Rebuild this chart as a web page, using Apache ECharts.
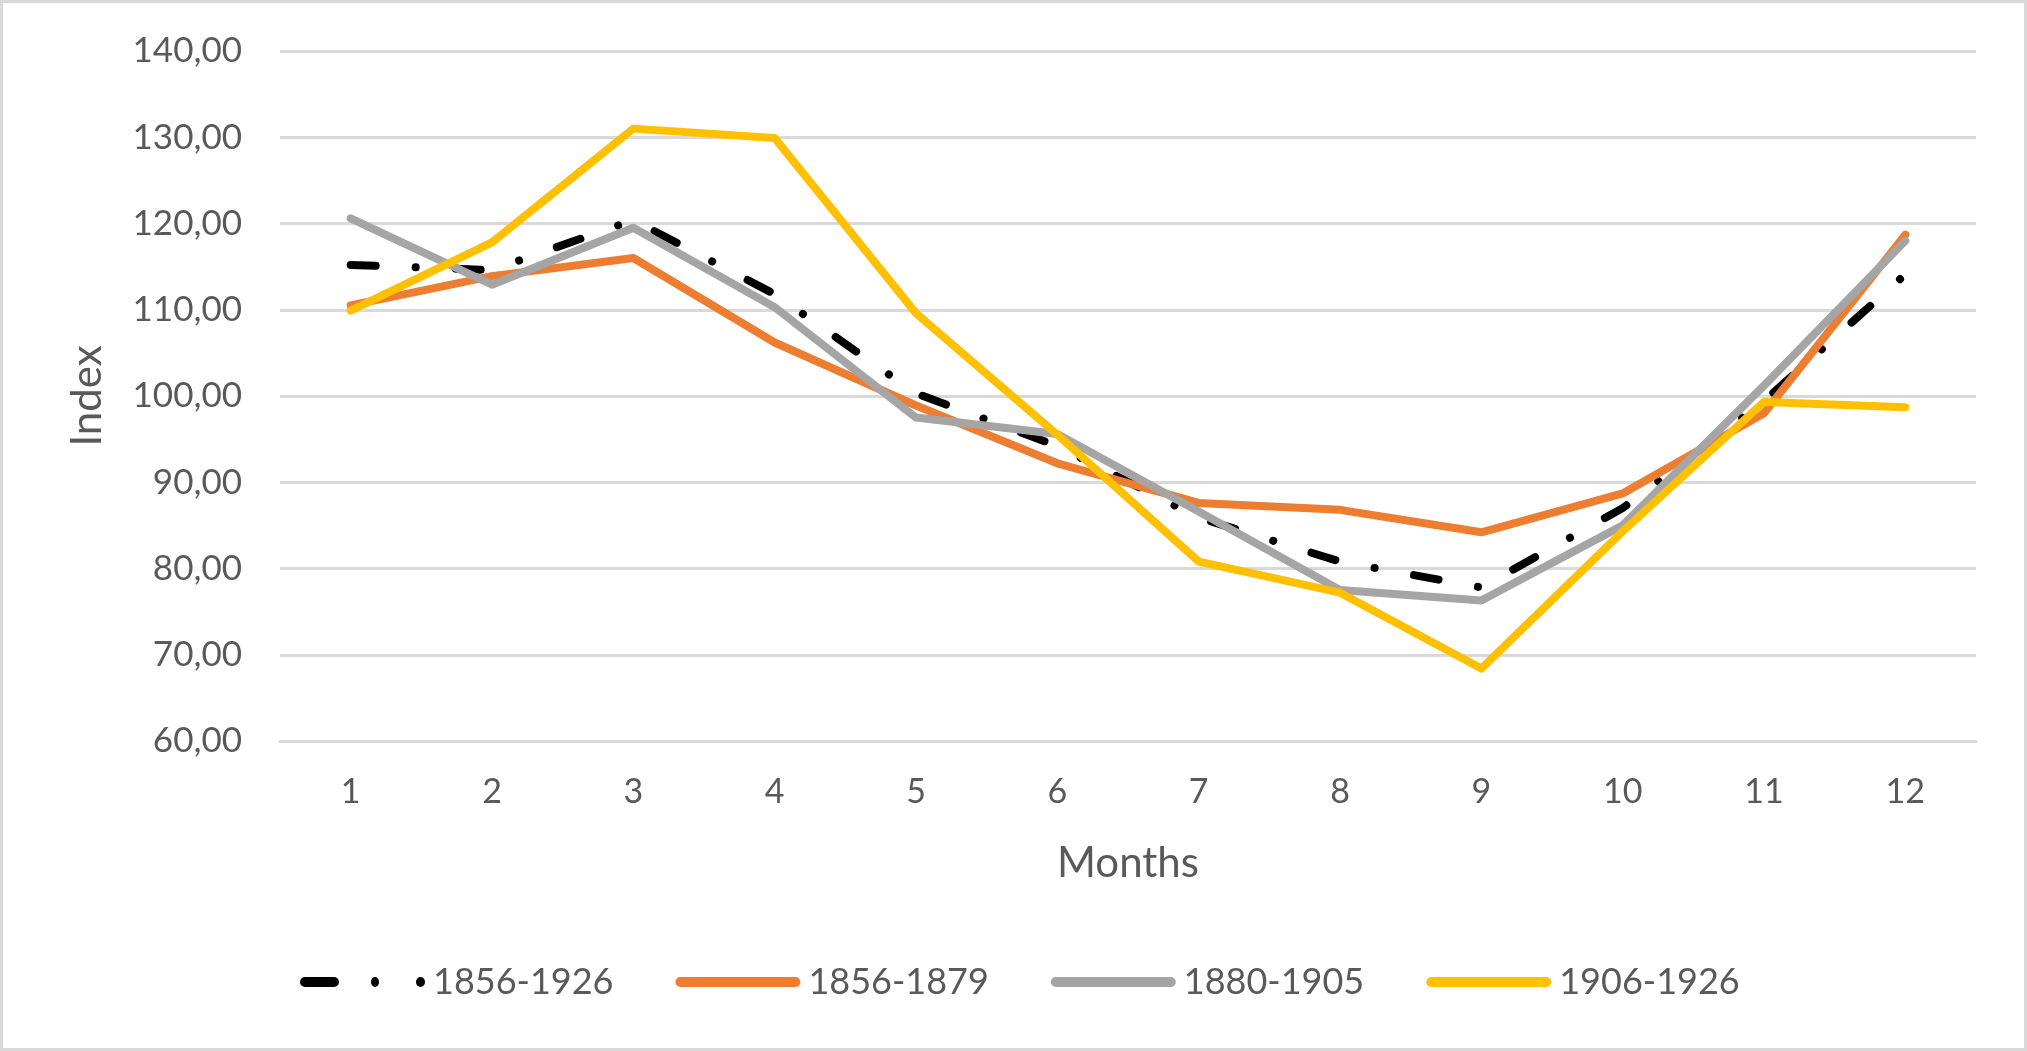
<!DOCTYPE html>
<html>
<head>
<meta charset="utf-8">
<script src="https://cdn.jsdelivr.net/npm/echarts@6/dist/echarts.min.js"></script>
<style>
html,body{margin:0;padding:0;background:#fff;}
#wrap{position:absolute;left:0;top:0;width:2027px;height:1051px;box-sizing:border-box;border:3px solid #d9d9d9;background:#fff;}
#chart{position:absolute;left:0;top:0;width:2027px;height:1051px;}
</style>
</head>
<body>
<div id="wrap"></div>
<div id="chart"></div>
<script>
const months = ['1','2','3','4','5','6','7','8','9','10','11','12'];
const s1856_1926 = [115.2, 114.6, 120.4, 111.8, 100.3, 94.2, 85.9, 80.8, 77.8, 87.0, 99.4, 114.1];
const s1856_1879 = [110.5, 113.9, 116.0, 106.2, 98.9, 92.2, 87.6, 86.8, 84.2, 88.7, 98.0, 118.7];
const s1880_1905 = [120.6, 112.9, 119.5, 110.3, 97.5, 95.6, 86.6, 77.5, 76.3, 85.0, 101.2, 118.0];
const s1906_1926 = [109.9, 117.8, 131.0, 129.9, 109.6, 95.5, 80.8, 77.2, 68.4, 84.3, 99.3, 98.7];
const yTicks = {min: 60, max: 140, interval: 10};

const FONT = 'Lato';
const TXT = '#595959';
const ICON_SOLID = 'path://M5,0 L120,0 A5,5 0 0 1 120,10 L5,10 A5,5 0 0 1 5,0 Z';
const ICON_DASHDOT = 'path://M5,0 L34,0 A5,5 0 0 1 34,10 L5,10 A5,5 0 0 1 5,0 Z ' +
  'M71,5 A4,5 0 1 1 79,5 A4,5 0 1 1 71,5 Z ' +
  'M116,5 A4.5,5 0 1 1 125,5 A4.5,5 0 1 1 116,5 Z ' +
  'M0,5 L0.01,5 Z';

const chart = echarts.init(document.getElementById('chart'), null, {renderer: 'canvas'});

function lineSeries(name, data, color, type) {
  return {
    name: name,
    type: 'line',
    data: data,
    symbol: 'none',
    showSymbol: false,
    smooth: false,
    z: 2,
    lineStyle: {color: color, width: 8, type: type || 'solid', cap: 'round', join: 'round'},
    itemStyle: {color: color},
    emphasis: {disabled: true}
  };
}

chart.setOption({
  animation: false,
  backgroundColor: 'transparent',
  textStyle: {fontFamily: FONT, color: TXT},
  grid: {left: 280, right: 51, top: 51, bottom: 310, containLabel: false},
  xAxis: {
    type: 'category',
    data: months,
    boundaryGap: true,
    name: 'Months',
    nameLocation: 'middle',
    nameGap: 101,
    nameTextStyle: {fontFamily: FONT, fontSize: 42, color: TXT},
    axisLine: {show: true, lineStyle: {color: '#d9d9d9', width: 3}},
    axisTick: {show: false},
    axisLabel: {fontFamily: FONT, fontSize: 34, color: TXT, margin: 34},
    splitLine: {show: false}
  },
  yAxis: {
    type: 'value',
    min: yTicks.min,
    max: yTicks.max,
    interval: yTicks.interval,
    name: 'Index',
    nameLocation: 'middle',
    nameGap: 172,
    nameRotate: 90,
    nameTextStyle: {fontFamily: FONT, fontSize: 42, color: TXT},
    axisLine: {show: false},
    axisTick: {show: false},
    axisLabel: {
      fontFamily: FONT, fontSize: 35, color: TXT, margin: 38,
      formatter: v => v.toFixed(2).replace('.', ',')
    },
    splitLine: {show: true, lineStyle: {color: '#d9d9d9', width: 3}}
  },
  legend: {
    show: true,
    bottom: 46,
    left: 295,
    itemWidth: 125,
    itemHeight: 10,
    itemGap: 62,
    symbolKeepAspect: false,
    textStyle: {fontFamily: FONT, fontSize: 36, color: TXT, padding: [0, 0, 0, 3]},
    data: [
      {name: '1856-1926', icon: ICON_DASHDOT, itemStyle: {color: '#000000'}},
      {name: '1856-1879', icon: ICON_SOLID, itemStyle: {color: '#ED7D31'}},
      {name: '1880-1905', icon: ICON_SOLID, itemStyle: {color: '#A5A5A5'}},
      {name: '1906-1926', icon: ICON_SOLID, itemStyle: {color: '#FFC000'}}
    ]
  },
  series: [
    lineSeries('1856-1879', s1856_1879, '#ED7D31'),
    lineSeries('1880-1905', s1880_1905, '#A5A5A5'),
    lineSeries('1906-1926', s1906_1926, '#FFC000'),
    Object.assign(lineSeries('1856-1926', s1856_1926, '#000000', [25, 40, 0.1, 40]), {z: 1})
  ]
});
</script>
</body>
</html>
